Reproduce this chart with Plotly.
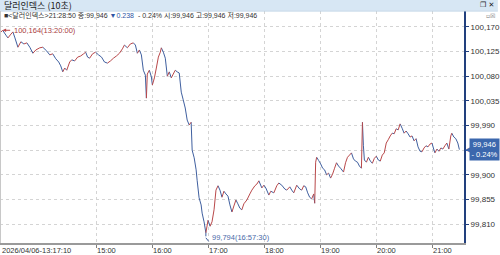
import plotly.graph_objects as go

DAY = "2026-04-06 "

times = [
    "13:17:10", "13:20:00", "13:23:34", "13:25:40", "13:28:53", "13:31:00", "13:33:10", "13:36:20",
    "13:39:30", "13:42:45", "13:45:55", "13:49:05", "13:52:20", "13:55:30", "13:59:45", "14:03:00",
    "14:07:15", "14:10:25", "14:13:35", "14:16:50", "14:20:00", "14:22:10", "14:24:20", "14:26:25",
    "14:28:35", "14:31:45", "14:33:55", "14:37:05", "14:40:20", "14:43:30", "14:46:40", "14:48:50",
    "14:50:55", "14:53:05", "14:56:15", "14:59:25", "15:02:40", "15:05:50", "15:09:00", "15:12:10",
    "15:15:25", "15:18:35", "15:21:45", "15:25:00", "15:28:10", "15:30:20", "15:33:30", "15:36:40",
    "15:39:55", "15:42:05", "15:44:10", "15:46:20", "15:48:30", "15:50:35", "15:52:45", "15:53:50",
    "15:54:50", "15:57:00", "15:59:10", "16:00:15", "16:02:25", "16:04:30", "16:06:40", "16:08:45",
    "16:09:50", "16:12:00", "16:14:05", "16:16:15", "16:18:20", "16:20:30", "16:22:35", "16:24:45",
    "16:26:50", "16:29:00", "16:31:10", "16:33:15", "16:35:25", "16:37:30", "16:39:40", "16:41:45",
    "16:42:50", "16:45:00", "16:47:05", "16:48:10", "16:50:15", "16:52:25", "16:53:30", "16:55:35",
    "16:57:30", "16:59:50", "17:02:00", "17:04:05", "17:06:15", "17:08:20", "17:10:30", "17:12:35",
    "17:14:45", "17:16:50", "17:19:00", "17:21:10", "17:23:15", "17:25:25", "17:27:30", "17:29:40",
    "17:31:45", "17:33:55", "17:36:00", "17:38:10", "17:41:25", "17:44:35", "17:46:45", "17:50:00",
    "17:52:05", "17:54:15", "17:57:25", "17:59:35", "18:01:40", "18:04:55", "18:07:00", "18:10:15",
    "18:13:25", "18:15:35", "18:18:45", "18:22:00", "18:24:05", "18:27:20", "18:29:25", "18:31:35",
    "18:34:45", "18:38:00", "18:40:05", "18:42:15", "18:44:20", "18:46:30", "18:48:35", "18:50:45",
    "18:52:55", "18:54:00", "18:55:00", "18:56:05", "18:58:15", "19:00:20", "19:02:30", "19:04:35",
    "19:06:45", "19:08:50", "19:11:00", "19:13:05", "19:15:15", "19:17:20", "19:19:30", "19:21:40",
    "19:24:50", "19:27:00", "19:29:05", "19:31:15", "19:33:20", "19:35:30", "19:37:35", "19:39:45",
    "19:41:50", "19:44:00", "19:45:05", "19:46:05", "19:47:10", "19:49:20", "19:51:25", "19:53:35",
    "19:55:40", "19:57:50", "19:59:55", "20:02:05", "20:04:10", "20:06:20", "20:08:25", "20:10:35",
    "20:12:40", "20:14:50", "20:16:55", "20:19:05", "20:21:10", "20:23:20", "20:25:25", "20:27:35",
    "20:29:40", "20:31:50", "20:33:55", "20:36:05", "20:38:10", "20:40:20", "20:42:30", "20:44:35",
    "20:46:45", "20:48:50", "20:51:00", "20:53:05", "20:55:15", "20:57:20", "20:59:30", "21:01:40",
    "21:02:40", "21:04:50", "21:06:55", "21:09:05", "21:11:10", "21:13:20", "21:15:25", "21:17:35",
    "21:19:40", "21:20:45", "21:22:55", "21:25:00", "21:27:10", "21:28:50",
]

values = [
    100.159, 100.164, 100.155, 100.150, 100.157, 100.161, 100.150, 100.133,
    100.143, 100.139, 100.141, 100.133, 100.122, 100.128, 100.132, 100.133,
    100.126, 100.119, 100.121, 100.112, 100.106, 100.099, 100.088, 100.095,
    100.091, 100.106, 100.110, 100.108, 100.115, 100.117, 100.121, 100.124,
    100.115, 100.113, 100.121, 100.124, 100.119, 100.115, 100.106, 100.104,
    100.108, 100.113, 100.117, 100.122, 100.130, 100.137, 100.132, 100.139,
    100.141, 100.137, 100.122, 100.128, 100.119, 100.091, 100.082, 100.040,
    100.084, 100.091, 100.079, 100.064, 100.077, 100.095, 100.115, 100.124,
    100.132, 100.124, 100.113, 100.080, 100.088, 100.077, 100.084, 100.091,
    100.088, 100.086, 100.051, 100.037, 100.022, 100.000, 99.991, 99.996,
    99.945, 99.931, 99.909, 99.890, 99.858, 99.845, 99.830, 99.814,
    99.794, 99.817, 99.806, 99.814, 99.836, 99.872, 99.880, 99.872,
    99.859, 99.870, 99.865, 99.861, 99.845, 99.832, 99.843, 99.854,
    99.847, 99.839, 99.836, 99.847, 99.854, 99.865, 99.872, 99.880,
    99.883, 99.889, 99.876, 99.881, 99.876, 99.863, 99.870, 99.867,
    99.880, 99.885, 99.881, 99.874, 99.872, 99.878, 99.872, 99.867,
    99.881, 99.874, 99.872, 99.880, 99.878, 99.867, 99.859, 99.856,
    99.865, 99.848, 99.923, 99.932, 99.926, 99.920, 99.912, 99.909,
    99.900, 99.903, 99.894, 99.901, 99.912, 99.922, 99.916, 99.912,
    99.905, 99.922, 99.932, 99.936, 99.940, 99.929, 99.925, 99.923,
    99.916, 99.912, 99.996, 99.954, 99.927, 99.923, 99.932, 99.925,
    99.921, 99.930, 99.934, 99.927, 99.925, 99.936, 99.940, 99.958,
    99.964, 99.971, 99.976, 99.975, 99.984, 99.982, 99.993, 99.985,
    99.976, 99.980, 99.975, 99.969, 99.971, 99.962, 99.966, 99.951,
    99.943, 99.942, 99.949, 99.953, 99.951, 99.956, 99.958, 99.945,
    99.940, 99.947, 99.943, 99.949, 99.947, 99.953, 99.958, 99.947,
    99.971, 99.976, 99.969, 99.966, 99.958, 99.946,
]

ytick_vals = [99.810, 99.855, 99.900, 99.945, 99.990, 100.035, 100.080, 100.125, 100.170]
# 99,945 is hidden behind the last-price box in the reference
ytick_text = ["99,810", "99,855", "99,900", "", "99,990", "100,035", "100,080", "100,125", "100,170"]
xtick_times = ["15:00:00", "16:00:00", "17:00:00", "18:00:00", "19:00:00", "20:00:00", "21:00:00"]
xtick_text = ["15:00", "16:00", "17:00", "18:00", "19:00", "20:00", "21:00"]
first_label = "2026/04/06-13:17:10"

max_time, max_value, max_text = "13:20:00", 100.164, "100,164(13:20:00)"
min_time, min_value, min_text = "16:57:30", 99.794, "99,794(16:57:30)"
last_value, last_text = 99.946, "99,946<br>- 0.24%"

title_text = "달러인덱스 (10초)"
info_text = ("■<달러인덱스>21:28:50 종:99,946 <span style='color:#2f55a4'>▼0.238</span>  - 0.24%"
             " 시:99,946 고:99,946 저:99,946")

x_range = [DAY + "13:17:10", DAY + "21:33:47"]
y_range = [99.7754, 100.1992]

FONT = "Liberation Sans, Noto Sans CJK KR, sans-serif"
KFONT = "Noto Sans CJK KR, Liberation Sans, sans-serif"
RED = "#b9484a"
BLUE = "#3f5f9f"
NAVY = "#22407e"
TXT = "#333333"

xs = [DAY + t for t in times]

# split into up (red) and down (blue) segments
rx, ry, bx, by = [], [], [], []
for i in range(len(values) - 1):
    if values[i + 1] >= values[i]:
        rx += [xs[i], xs[i + 1], None]
        ry += [values[i], values[i + 1], None]
    else:
        bx += [xs[i], xs[i + 1], None]
        by += [values[i], values[i + 1], None]

fig = go.Figure()
fig.add_trace(go.Scatter(x=bx, y=by, mode="lines", line=dict(color=BLUE, width=1), hoverinfo="skip"))
fig.add_trace(go.Scatter(x=rx, y=ry, mode="lines", line=dict(color=RED, width=1), hoverinfo="skip"))

W, H = 500, 255
ML, MR, MT, MB = 0, 34, 11, 12
ph = H - MT - MB
pw = W - ML - MR

def py(ypix):
    return (H - MB - ypix) / ph

def px(xpix):
    return (xpix - ML) / pw

fig.update_layout(
    width=W, height=H,
    margin=dict(l=ML, r=MR, t=MT, b=MB, pad=0),
    paper_bgcolor="white", plot_bgcolor="white",
    showlegend=False,
    font=dict(family=FONT, size=8, color=TXT),
    xaxis=dict(
        range=x_range, type="date",
        tickmode="array", tickvals=[DAY + t for t in xtick_times],
        showticklabels=False, ticks="outside", ticklen=3, tickcolor="#808080",
        showgrid=True, gridcolor="#d4d4d4", griddash="dot", gridwidth=1,
        showline=True, linecolor="#9a9a9a", linewidth=2,
        zeroline=False, fixedrange=True,
    ),
    yaxis=dict(
        range=y_range, side="right",
        tickmode="array", tickvals=ytick_vals, ticktext=ytick_text,
        ticks="outside", ticklen=3, tickcolor=NAVY,
        tickfont=dict(family=FONT, size=8, color=TXT),
        showgrid=True, gridcolor="#d4d4d4", griddash="dot", gridwidth=1,
        showline=True, linecolor=NAVY, linewidth=2,
        zeroline=False, fixedrange=True,
    ),
)

shapes = [
    # title bar
    dict(type="rect", xref="paper", yref="paper", x0=px(0), x1=px(W), y0=py(10.5), y1=py(0),
         fillcolor="#d7e7f4", line=dict(width=0), layer="above"),
    dict(type="line", xref="paper", yref="paper", x0=px(0), x1=px(W), y0=py(11), y1=py(11),
         line=dict(color="#b8cfe4", width=1), layer="above"),
    # left border
    dict(type="line", xref="paper", yref="paper", x0=px(0.5), x1=px(0.5), y0=0, y1=1,
         line=dict(color="#c8c8c8", width=1)),
]
fig.update_layout(shapes=shapes)

ann = []
ann.append(dict(xref="paper", yref="paper", x=px(2), y=py(5.5), xanchor="left", yanchor="middle",
                text=title_text, showarrow=False, font=dict(family=KFONT, size=9, color="#1a1a1a")))
ann.append(dict(xref="paper", yref="paper", x=px(480), y=py(5.5), xanchor="left", yanchor="middle",
                text="❐ ✕", showarrow=False, font=dict(family="DejaVu Sans", size=7, color="#1a1a1a")))
ann.append(dict(xref="paper", yref="paper", x=px(486), y=py(15), xanchor="left", yanchor="middle",
                text="▫☒", showarrow=False, font=dict(family="DejaVu Sans", size=6, color="#777777")))
ann.append(dict(xref="paper", yref="paper", x=px(2), y=py(15.5), xanchor="left", yanchor="middle",
                text=info_text, showarrow=False, font=dict(family=FONT, size=7, color=TXT)))

# x tick labels, left-aligned at the tick
ann.append(dict(xref="x", yref="paper", x=xs[0], y=0, xanchor="left", yanchor="top", yshift=-1,
                text=first_label, showarrow=False, font=dict(family=FONT, size=7.5, color=TXT)))
for t, lab in zip(xtick_times, xtick_text):
    ann.append(dict(xref="x", yref="paper", x=DAY + t, y=0, xanchor="left", yanchor="top", yshift=-1,
                    xshift=-1, text=lab, showarrow=False, font=dict(family=FONT, size=7.5, color=TXT)))

# max marker
ann.append(dict(xref="x", yref="y", x=DAY + max_time, y=max_value, ax=9, ay=0,
                text="", showarrow=True, arrowhead=2, arrowsize=0.7, arrowwidth=1, arrowcolor=RED))
ann.append(dict(xref="x", yref="y", x=DAY + max_time, y=max_value, xanchor="left", yanchor="middle",
                xshift=9, text=max_text, showarrow=False, font=dict(family=FONT, size=7.5, color="#a9403f")))
# min marker (L-shaped leader)
ann.append(dict(xref="x", yref="y", x=DAY + min_time, y=min_value, ax=0, ay=5,
                text="", showarrow=True, arrowhead=0, arrowwidth=1, arrowcolor=BLUE))
ann.append(dict(xref="x", yref="y", x=DAY + min_time, y=min_value, ax=4, ay=5, xshift=0, yshift=-5,
                text="", showarrow=True, arrowhead=0, arrowwidth=1, arrowcolor=BLUE))
ann.append(dict(xref="x", yref="y", x=DAY + min_time, y=min_value, xanchor="left", yanchor="middle",
                xshift=4, yshift=-5, text=min_text, showarrow=False, font=dict(family=FONT, size=7.5, color="#4a6aa8")))

# last price box
ann.append(dict(xref="paper", yref="y", x=1, y=last_value, xanchor="left", yanchor="middle", xshift=5,
                text=last_text, showarrow=False, bgcolor="#3b67ad", borderpad=1, align="center",
                font=dict(family=FONT, size=7.5, color="white"), width=27))
ann.append(dict(xref="paper", yref="y", x=1, y=last_value, xanchor="left", yanchor="middle", xshift=-1,
                text="◀", showarrow=False, font=dict(family="DejaVu Sans", size=8, color="#3b67ad")))

fig.update_layout(annotations=ann)

fig.write_html("out.html")
